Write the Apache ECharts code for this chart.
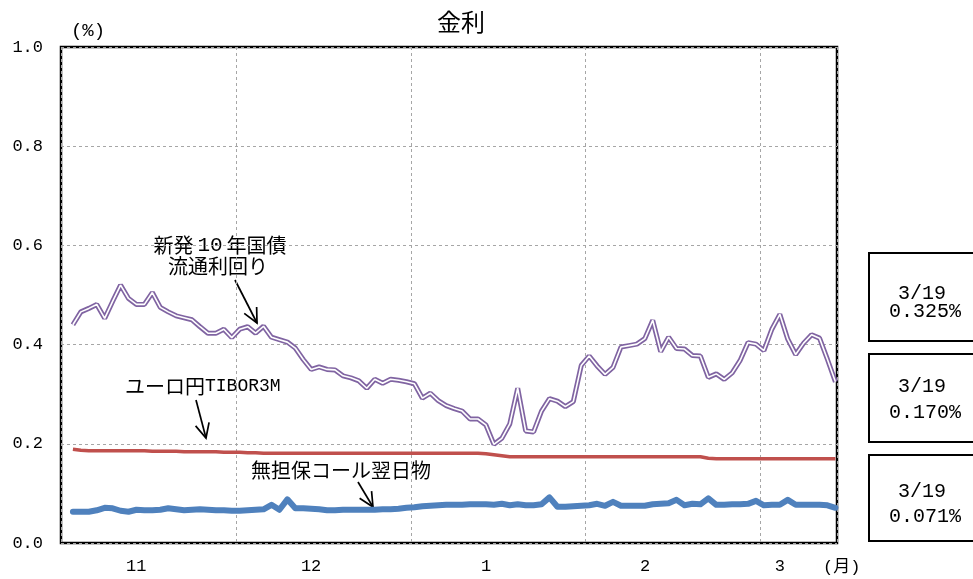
<!DOCTYPE html>
<html>
<head>
<meta charset="utf-8">
<title>金利</title>
<script src="https://cdn.jsdelivr.net/npm/echarts@6/dist/echarts.min.js"></script>
<style>
html,body{margin:0;padding:0;background:#fff;}
#main{width:973px;height:579px;}
</style>
</head>
<body>
<div id="main"></div>
<script>
// 新発10年国債流通利回り (%)  営業日ごと
var jgb10y = [0.440,0.466,0.473,0.481,0.453,0.487,0.520,0.493,0.481,0.481,
              0.505,0.475,0.466,0.458,0.454,0.450,0.436,0.423,0.423,0.431,
              0.414,0.431,0.436,0.423,0.437,0.415,0.410,0.405,0.393,0.370,
              0.350,0.355,0.350,0.349,0.337,0.333,0.327,0.312,0.330,0.322,
              0.330,0.328,0.325,0.321,0.292,0.302,0.287,0.277,0.271,0.266,
              0.250,0.250,0.238,0.199,0.211,0.240,0.312,0.226,0.224,0.266,
              0.291,0.286,0.275,0.285,0.358,0.377,0.357,0.340,0.354,0.395,
              0.398,0.401,0.412,0.449,0.386,0.415,0.392,0.391,0.378,0.377,
              0.334,0.341,0.330,0.343,0.368,0.404,0.401,0.388,0.431,0.461,
              0.411,0.380,0.403,0.420,0.413,0.370,0.325];
// ユーロ円TIBOR3M (%)
var tibor3m = [0.189,0.187,0.186,0.186,0.186,0.186,0.186,0.186,0.186,0.186,
               0.185,0.185,0.185,0.185,0.184,0.184,0.184,0.184,0.184,0.183,
               0.183,0.183,0.182,0.182,0.181,0.181,0.181,0.181,0.181,0.181,
               0.181,0.181,0.181,0.181,0.181,0.181,0.181,0.181,0.181,0.181,
               0.181,0.181,0.181,0.181,0.181,0.181,0.181,0.181,0.181,0.181,
               0.181,0.181,0.180,0.178,0.176,0.174,0.174,0.174,0.174,0.174,
               0.174,0.174,0.174,0.174,0.174,0.174,0.174,0.174,0.174,0.174,
               0.174,0.174,0.174,0.174,0.174,0.174,0.174,0.174,0.174,0.174,
               0.171,0.170,0.170,0.170,0.170,0.170,0.170,0.170,0.170,0.170,
               0.170,0.170,0.170,0.170,0.170,0.170,0.170];
// 無担保コール翌日物 (%)
var callRate = [0.063,0.063,0.063,0.066,0.071,0.070,0.065,0.063,0.067,0.066,
                0.066,0.067,0.070,0.068,0.066,0.067,0.068,0.067,0.066,0.066,
                0.065,0.065,0.066,0.067,0.068,0.077,0.067,0.088,0.070,0.070,
                0.069,0.068,0.066,0.066,0.067,0.067,0.067,0.067,0.067,0.068,
                0.068,0.069,0.071,0.072,0.074,0.075,0.076,0.077,0.077,0.077,
                0.078,0.078,0.078,0.077,0.079,0.076,0.078,0.076,0.076,0.078,
                0.092,0.073,0.073,0.074,0.075,0.076,0.079,0.075,0.083,0.075,
                0.075,0.075,0.075,0.078,0.079,0.080,0.087,0.076,0.079,0.078,
                0.090,0.077,0.077,0.078,0.078,0.079,0.085,0.076,0.077,0.077,
                0.087,0.077,0.077,0.077,0.077,0.076,0.071];

// 月ラベル（月単位の軸での位置）
var monthLabels = ['11','12','1','2','3'];
var monthLabelPos = [0.43, 1.43, 2.43, 3.34, 4.11];
var lastDate = '3/19';
var lastValues = ['0.325%','0.170%','0.071%'];

var monoFont = "'Liberation Mono','Noto Sans CJK JP'";
var jpFont = "'Noto Sans CJK JP'";

function toXY(arr){
    return arr.map(function(v, i){ return [i, v]; });
}

function arrow(x1, y1, x2, y2){
    var a = Math.atan2(y2 - y1, x2 - x1), L = 16, h = 0.45;
    var p1 = [x2 - L * Math.cos(a - h), y2 - L * Math.sin(a - h)];
    var p2 = [x2 - L * Math.cos(a + h), y2 - L * Math.sin(a + h)];
    return {type: 'group', children: [
        {type: 'line', shape: {x1: x1, y1: y1, x2: x2, y2: y2}, style: {stroke: '#000', lineWidth: 1.7}},
        {type: 'polyline', shape: {points: [p1, [x2, y2], p2]}, style: {stroke: '#000', lineWidth: 1.7, fill: null}}
    ]};
}

function label(x, y, text, size, align, font){
    return {type: 'text', x: x, y: y, style: {text: text, fontSize: size, fontFamily: font || jpFont,
        fill: '#000', align: align || 'center', verticalAlign: 'middle'}};
}

function box(y, h, y1, y2, value){
    return {type: 'group', children: [
        {type: 'rect', shape: {x: 869, y: y, width: 112, height: h}, style: {fill: '#fff', stroke: '#000', lineWidth: 2}},
        label(922, y1, lastDate, 20, 'center', monoFont),
        label(925, y2, value, 20, 'center', monoFont)
    ]};
}

var myChart = echarts.init(document.getElementById('main'));
var option = {
    animation: false,
    backgroundColor: '#fff',
    title: {
        text: '金利',
        left: 432,
        top: 5,
        textStyle: {fontFamily: jpFont, fontSize: 24, fontWeight: 'normal', color: '#000'}
    },
    grid: {
        left: 61,
        right: 136,
        top: 47,
        bottom: 36,
        show: true,
        borderColor: '#000',
        borderWidth: 2.5,
        backgroundColor: 'transparent'
    },
    xAxis: [
        {
            type: 'value',
            min: -1.5,
            max: 96.2,
            show: false,
            position: 'bottom'
        },
        {
            type: 'value',
            min: 0,
            max: 4.437,
            interval: 1,
            position: 'bottom',
            axisLine: {show: false},
            axisTick: {show: false},
            splitLine: {show: true, lineStyle: {color: '#a6a6a6', type: [3, 3], width: 1}},
            axisLabel: {
                customValues: monthLabelPos,
                margin: 15,
                fontSize: 17,
                fontFamily: monoFont,
                color: '#000',
                formatter: function(v){
                    var best = 0;
                    for (var i = 0; i < monthLabelPos.length; i++) {
                        if (Math.abs(monthLabelPos[i] - v) < Math.abs(monthLabelPos[best] - v)) best = i;
                    }
                    return monthLabels[best];
                }
            },
            name: '(月)',
            nameLocation: 'end',
            nameGap: -14,
            nameMoveOverlap: false,
            nameTextStyle: {fontFamily: monoFont, fontSize: 17, color: '#000', align: 'left', verticalAlign: 'top', padding: [16, 0, 0, 0]}
        }
    ],
    yAxis: {
        type: 'value',
        min: 0,
        max: 1,
        interval: 0.2,
        axisLine: {show: false},
        axisTick: {show: false},
        splitLine: {show: true, lineStyle: {color: '#a6a6a6', type: [3, 3], width: 1}},
        axisLabel: {
            margin: 18,
            fontSize: 17,
            fontFamily: monoFont,
            color: '#000',
            formatter: function(v){ return v.toFixed(1); }
        }
    },
    series: [
        {
            name: '新発10年国債流通利回り',
            type: 'line',
            xAxisIndex: 0,
            data: toXY(jgb10y),
            symbol: 'none',
            lineStyle: {color: '#8064A2', width: 5},
            z: 3
        },
        {
            name: '新発10年国債流通利回り(内)',
            type: 'line',
            xAxisIndex: 0,
            data: toXY(jgb10y),
            symbol: 'none',
            lineStyle: {color: '#fff', width: 1.6},
            z: 4
        },
        {
            name: 'ユーロ円TIBOR3M',
            type: 'line',
            xAxisIndex: 0,
            data: toXY(tibor3m),
            symbol: 'none',
            lineStyle: {color: '#C0504D', width: 3.6},
            z: 3
        },
        {
            name: '無担保コール翌日物',
            type: 'line',
            xAxisIndex: 0,
            data: toXY(callRate),
            symbol: 'none',
            lineStyle: {color: '#4F81BD', width: 6, cap: 'round', join: 'round'},
            z: 3
        }
    ],
    graphic: [
        label(88, 31, '(%)', 19, 'center', monoFont),
        {type: 'text', x: 220, y: 245, style: {
            rich: {c: {fontFamily: jpFont, fontSize: 20}, m: {fontFamily: monoFont, fontSize: 21, padding: [0, 4, 0, 4]}},
            text: '{c|新発}{m|10}{c|年国債}', fill: '#000', verticalAlign: 'middle', align: 'center'}},
        label(218, 266, '流通利回り', 20),
        arrow(235, 280, 257, 323),
        {type: 'text', x: 125, y: 386, style: {
            rich: {c: {fontFamily: jpFont, fontSize: 20}, m: {fontFamily: monoFont, fontSize: 18}},
            text: '{c|ユーロ円}{m|TIBOR3M}', fill: '#000', verticalAlign: 'middle', align: 'left'}},
        arrow(196, 400, 206, 438),
        label(341, 470, '無担保コール翌日物', 20),
        arrow(358, 482, 373, 507),
        box(253, 88, 294, 312, lastValues[0]),
        box(354, 88, 387, 413, lastValues[1]),
        box(455, 86, 492, 517, lastValues[2])
    ]
};
myChart.setOption(option);
</script>
</body>
</html>
